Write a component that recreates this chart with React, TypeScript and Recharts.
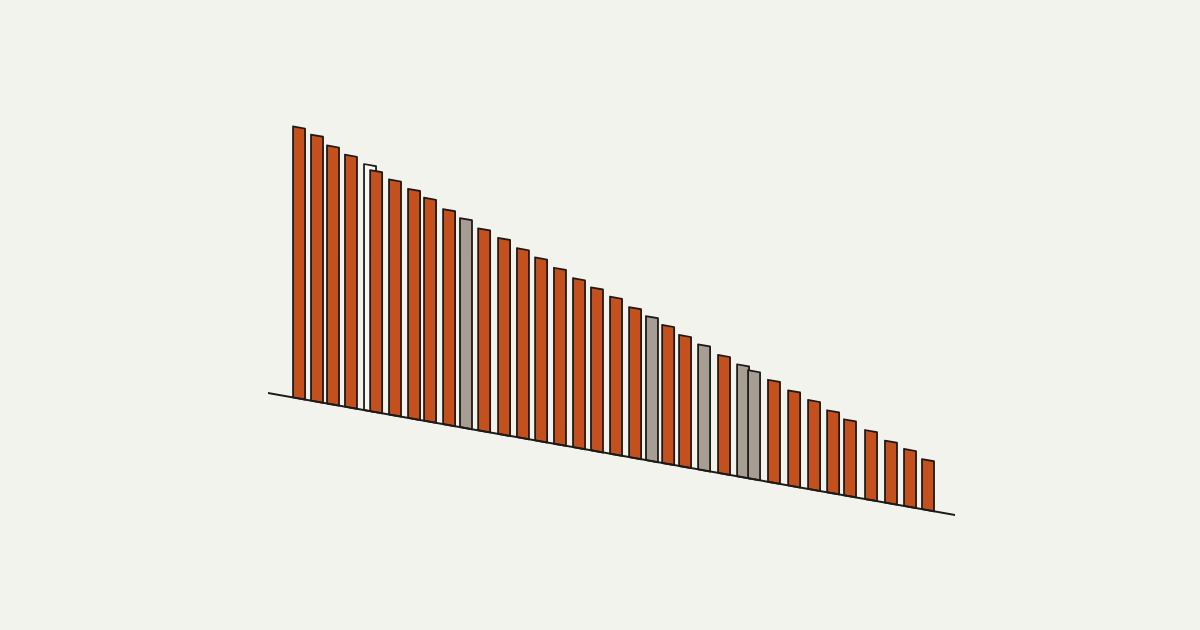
import { Bar, BarChart, Cell, ReferenceLine, XAxis, YAxis } from "recharts";

// bar positions along the axis (slot units, some bars sit closer / overlap)
const positions = [
  1, 2, 2.89, 3.89, 4.95, 5.29, 6.34, 7.4, 8.29, 9.35, 10.29, 11.3, 12.41, 13.46, 14.47, 15.52,
  16.58, 17.58, 18.64, 19.7, 20.64, 21.54, 22.48, 23.54, 24.65, 25.71, 26.32, 27.43, 28.55,
  29.66, 30.72, 31.66, 32.83, 33.94, 35, 36,
];

const values = [
  271, 266, 258, 252, 246, 241, 235, 229, 223, 215, 209, 202, 196, 189, 183, 176, 169, 163, 157,
  150, 144, 138, 131, 125, 118, 112, 108, 102, 95, 89, 82, 76, 69, 62, 57, 50,
];

// "main" | "muted" | "empty"
const groups = [
  "main", "main", "main", "main", "empty", "main", "main", "main", "main", "main", "muted",
  "main", "main", "main", "main", "main", "main", "main", "main", "main", "muted", "main",
  "main", "muted", "main", "muted", "muted", "main", "main", "main", "main", "main", "main",
  "main", "main", "main",
];

const fills: Record<string, string> = {
  main: "#c4501e",
  muted: "#a69e92",
  empty: "#f7f7f3",
};

const data = positions.map((pos, i) => ({ pos, value: values[i], group: groups[i] }));

const BAR_W = 12;

// recharts squeezes bars on a numeric axis when two sit close; redraw at a fixed width around the centre
function SlabShape(props: any) {
  const { x, y, width, height, fill, stroke, strokeWidth } = props;
  const cx = x + width / 2;
  return (
    <rect
      x={cx - BAR_W / 2}
      y={y}
      width={BAR_W}
      height={height}
      fill={fill}
      stroke={stroke}
      strokeWidth={strokeWidth}
      strokeLinejoin="round"
    />
  );
}

export default function App() {
  return (
    <div
      style={{
        position: "absolute",
        left: 0,
        top: 0,
        width: 1200,
        height: 630,
        background: "#f3f3ee",
        overflow: "hidden",
      }}
    >
      <div style={{ transform: "skewY(10.07deg)", transformOrigin: "268px 393px" }}>
        <BarChart
          width={1200}
          height={630}
          data={data}
          margin={{ top: 93, right: 245, bottom: 237, left: 268 }}
        >
          <XAxis type="number" dataKey="pos" domain={[-0.725, 37.505]} hide />
          <YAxis type="number" domain={[0, 300]} hide />
          <ReferenceLine y={0} stroke="#1e1a18" strokeWidth={2} />
          <Bar
            dataKey="value"
            stroke="#1e1a18"
            strokeWidth={1.8}
            shape={SlabShape}
            isAnimationActive={false}
          >
            {data.map((d, i) => (
              <Cell key={i} fill={fills[d.group]} />
            ))}
          </Bar>
        </BarChart>
      </div>
    </div>
  );
}
